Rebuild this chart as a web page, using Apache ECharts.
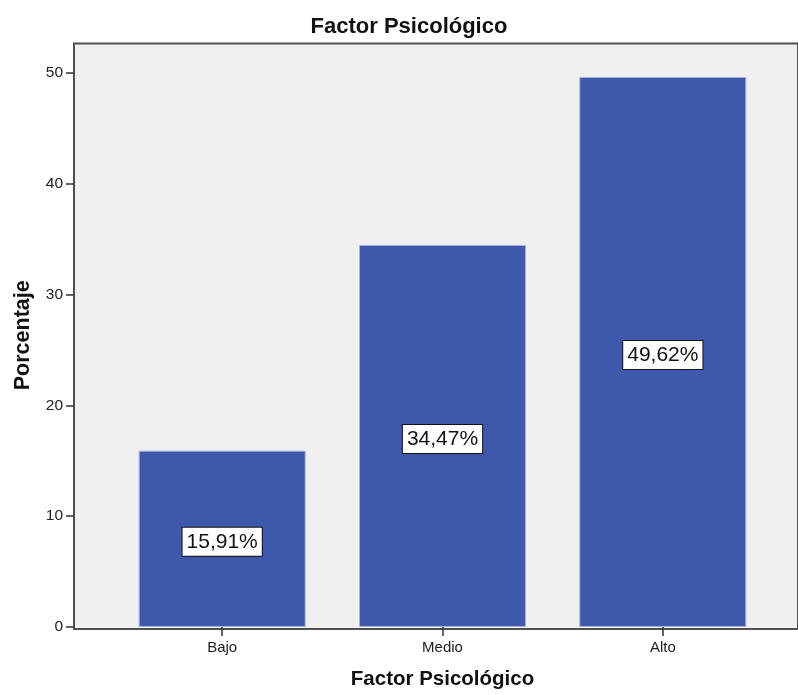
<!DOCTYPE html>
<html>
<head>
<meta charset="utf-8">
<title>Factor Psicológico</title>
<script src="https://cdn.jsdelivr.net/npm/echarts@6/dist/echarts.min.js"></script>
<style>
  html, body { margin: 0; padding: 0; background: #ffffff; }
  #chart { width: 798px; height: 695px; }
</style>
</head>
<body>
<div id="chart"></div>
<script>
// Categories and percentages
const categories = ['Bajo', 'Medio', 'Alto'];
const percentages = [15.91, 34.47, 49.62];
const yTicks = [0, 10, 20, 30, 40, 50];

const FONT = '"Liberation Sans", Arial, sans-serif';
const BAR_COLOR = '#3e58ab';

const chart = echarts.init(document.getElementById('chart'), null, { renderer: 'canvas' });

chart.setOption({
  animation: false,
  backgroundColor: '#ffffff',
  title: {
    text: 'Factor Psicológico',
    left: 404,
    textAlign: 'center',
    top: 11,
    textStyle: { fontFamily: FONT, fontSize: 22, fontWeight: 'bold', color: '#111111' }
  },
  grid: [
    // plot frame (light gray panel, extends past the right edge)
    {
      left: 74, top: 43.5, right: -10, bottom: 66,
      show: true, backgroundColor: '#f0f0f0',
      borderColor: '#505050', borderWidth: 2
    },
    // bar area
    { left: 112, top: 43.5, right: 25, bottom: 66, show: false }
  ],
  xAxis: [
    { gridIndex: 0, type: 'value', show: false, min: 0, max: 1 },
    {
      gridIndex: 1,
      type: 'category',
      data: categories,
      axisLine: { show: false },
      axisTick: { show: true, alignWithLabel: true, length: 9, lineStyle: { color: '#333333', width: 1.5 } },
      axisLabel: { margin: 13, fontFamily: FONT, fontSize: 15, color: '#222222' },
      name: 'Factor Psicológico',
      nameLocation: 'middle',
      nameGap: 42,
      nameTextStyle: { fontFamily: FONT, fontSize: 20.5, fontWeight: 'bold', color: '#111111' }
    }
  ],
  yAxis: [
    { gridIndex: 0, type: 'value', show: false, min: 0, max: 1 },
    {
      gridIndex: 1,
      type: 'value',
      min: 0,
      max: 52.64,
      interval: 10,
      offset: 38,
      axisLine: { show: false },
      axisTick: { show: true, length: 8, customValues: yTicks, lineStyle: { color: '#333333', width: 1.5 } },
      axisLabel: { margin: 11, customValues: yTicks, fontFamily: FONT, fontSize: 15.5, color: '#222222' },
      splitLine: { show: false },
      name: 'Porcentaje',
      nameLocation: 'middle',
      nameGap: 40,
      nameTextStyle: { fontFamily: FONT, fontSize: 21.5, fontWeight: 'bold', color: '#111111' }
    }
  ],
  series: [
    {
      type: 'bar',
      xAxisIndex: 1,
      yAxisIndex: 1,
      data: percentages,
      barWidth: 167,
      itemStyle: { color: BAR_COLOR, borderColor: '#a6b4dd', borderWidth: 1 },
      label: {
        show: true,
        position: 'inside',
        offset: [0, 3],
        formatter: p => p.value.toFixed(2).replace('.', ',') + '%',
        fontFamily: FONT,
        fontSize: 21,
        color: '#111111',
        backgroundColor: '#ffffff',
        borderColor: '#111111',
        borderWidth: 1,
        padding: [4, 4, 3, 4]
      }
    }
  ]
});
</script>
</body>
</html>
